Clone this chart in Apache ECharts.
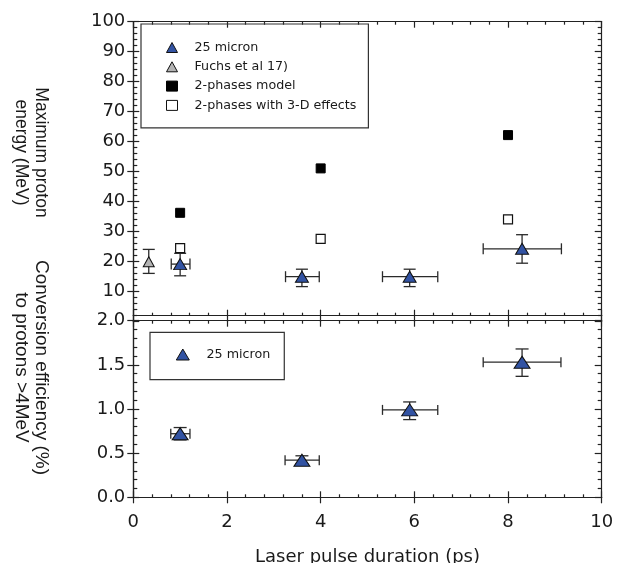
<!DOCTYPE html>
<html>
<head>
<meta charset="utf-8">
<script src="https://cdn.jsdelivr.net/npm/echarts@6/dist/echarts.min.js"></script>
<style>html,body{margin:0;padding:0;background:#fff}#c{width:621px;height:563px}</style>
</head>
<body>
<div id="c"></div>
<script>
// ---- data ----
const xTicks = [0, 2, 4, 6, 8, 10];
const energyTicks = [0, 10, 20, 30, 40, 50, 60, 70, 80, 90, 100];
const effTicks = [0.0, 0.5, 1.0, 1.5, 2.0];

const micronX = [1.0, 3.6, 5.9, 8.3];
const micronXLo = [0.81, 3.25, 5.32, 7.47];
const micronXHi = [1.21, 3.97, 6.50, 9.14];
const micronEnergy = [19.2, 15.0, 15.0, 24.3];
const micronEnergyLo = [15.3, 11.7, 11.7, 19.5];
const micronEnergyHi = [22.8, 17.5, 17.5, 29.0];

const fuchsX = [0.33];
const fuchsEnergy = [20.0];
const fuchsEnergyLo = [16.1];
const fuchsEnergyHi = [24.1];

const modelX = [1, 4, 8];
const model2Phase = [36.3, 51.1, 62.2];
const model3D = [24.5, 27.6, 34.1];

const effX = [1.0, 3.6, 5.9, 8.3];
const effXLo = [0.80, 3.24, 5.32, 7.47];
const effXHi = [1.21, 3.97, 6.50, 9.13];
const efficiency = [0.72, 0.42, 0.99, 1.53];
const efficiencyLo = [0.65, 0.38, 0.88, 1.37];
const efficiencyHi = [0.79, 0.47, 1.08, 1.68];

const legendTop = ['25 micron', 'Fuchs et al 17)', '2-phases model', '2-phases with 3-D effects'];
const legendBottom = ['25 micron'];

// ---- styling ----
const AX = '#222';
const BLUE = '#3253a3';
const GRAY = '#b4b4b4';
const TXT = '#1a1a1a';
const tickFont = { fontFamily: 'DejaVu Sans', fontSize: 18, color: TXT };
const lineSt = { color: AX, width: 1.2 };

function axisBase(grid, t, extra) {
  return Object.assign({
    type: 'value', gridIndex: grid,
    min: t[0], max: t[t.length - 1], interval: t[1] - t[0],
    axisLine: { show: true, onZero: false, lineStyle: lineSt },
    splitLine: { show: false },
    axisLabel: { show: false },
    axisTick: { show: false },
    minorTick: { show: false }
  }, extra);
}
const outTick = (len) => ({ show: true, inside: false, length: len, lineStyle: lineSt });
const inTick = (len) => ({ show: true, inside: true, length: len, lineStyle: lineSt });
const minor = (len) => ({ show: true, splitNumber: 5, length: len, lineStyle: lineSt });

const xAxes = [
  axisBase(0, xTicks, { position: 'bottom', offset: -6, axisTick: outTick(6) }),
  axisBase(0, xTicks, { position: 'bottom', offset: -6, axisTick: inTick(6), minorTick: minor(3) }),
  axisBase(0, xTicks, { position: 'top', axisTick: inTick(6), minorTick: minor(3) }),
  axisBase(1, xTicks, { position: 'bottom', axisTick: outTick(6),
    axisLabel: Object.assign({ show: true, margin: 16 }, tickFont) }),
  axisBase(1, xTicks, { position: 'bottom', axisTick: inTick(6), minorTick: minor(3) }),
  axisBase(1, xTicks, { position: 'top', axisTick: inTick(6), minorTick: minor(3) })
];
const yAxes = [
  axisBase(0, energyTicks, { position: 'left', axisTick: outTick(6),
    axisLabel: Object.assign({ show: true, margin: 8, showMinLabel: false }, tickFont) }),
  axisBase(0, energyTicks, { position: 'left', axisTick: inTick(6), minorTick: minor(4) }),
  axisBase(0, energyTicks, { position: 'right', axisTick: inTick(7), minorTick: minor(4) }),
  axisBase(1, effTicks, { position: 'left', axisTick: outTick(6),
    axisLabel: Object.assign({ show: true, margin: 8, formatter: v => v.toFixed(1) }, tickFont) }),
  axisBase(1, effTicks, { position: 'left', axisTick: inTick(6), minorTick: minor(4) }),
  axisBase(1, effTicks, { position: 'right', axisTick: inTick(7), minorTick: minor(4) })
];

function errData(x, y, xlo, xhi, ylo, yhi) {
  return x.map((v, i) => [v, y[i], xlo ? xlo[i] : v, xhi ? xhi[i] : v, ylo[i], yhi[i]]);
}
function errSeries(data, xi, yi, capV, capH) {
  return {
    type: 'custom', xAxisIndex: xi, yAxisIndex: yi, z: 1, silent: true,
    encode: { x: [0, 2, 3], y: [1, 4, 5] },
    data: data,
    renderItem: function (params, api) {
      const x = api.value(0), y = api.value(1);
      const xl = api.value(2), xh = api.value(3), yl = api.value(4), yh = api.value(5);
      const c = api.coord([x, y]);
      const pl = api.coord([xl, y]), ph = api.coord([xh, y]);
      const ql = api.coord([x, yl]), qh = api.coord([x, yh]);
      const st = { stroke: '#2a2a2a', lineWidth: 1.3 };
      const ch = [];
      if (xh > xl) {
        ch.push({ type: 'line', shape: { x1: pl[0], y1: c[1], x2: ph[0], y2: c[1] }, style: st });
        ch.push({ type: 'line', shape: { x1: pl[0], y1: c[1] - capH, x2: pl[0], y2: c[1] + capH }, style: st });
        ch.push({ type: 'line', shape: { x1: ph[0], y1: c[1] - capH, x2: ph[0], y2: c[1] + capH }, style: st });
      }
      ch.push({ type: 'line', shape: { x1: c[0], y1: ql[1], x2: c[0], y2: qh[1] }, style: st });
      ch.push({ type: 'line', shape: { x1: c[0] - capV, y1: ql[1], x2: c[0] + capV, y2: ql[1] }, style: st });
      ch.push({ type: 'line', shape: { x1: c[0] - capV, y1: qh[1], x2: c[0] + capV, y2: qh[1] }, style: st });
      return { type: 'group', children: ch };
    }
  };
}
const pairs = (x, y) => x.map((v, i) => [v, y[i]]);

const chart = echarts.init(document.getElementById('c'), null, { renderer: 'canvas' });
chart.setOption({
  animation: false,
  backgroundColor: '#fff',
  grid: [
    { left: 133.3, top: 21.7, width: 468.4, height: 300, containLabel: false },
    { left: 133.3, top: 320.7, width: 468.4, height: 176.6, containLabel: false }
  ],
  xAxis: xAxes,
  yAxis: yAxes,
  legend: [
    {
      data: legendTop, orient: 'vertical', left: 141, top: 24,
      padding: [17, 12, 16, 25], itemWidth: 11, itemHeight: 10, itemGap: 6.3,
      borderColor: '#333', borderWidth: 1.2, selectedMode: false,
      itemStyle: { borderWidth: 1 },
      textStyle: { fontFamily: 'DejaVu Sans', fontSize: 12.7, color: TXT, padding: [0, 0, 0, 12] }
    },
    {
      data: legendBottom, orient: 'vertical', left: 150, top: 332.3,
      padding: [15.7, 14, 18.6, 25.8], itemWidth: 13, itemHeight: 11,
      borderColor: '#333', borderWidth: 1.2, selectedMode: false,
      itemStyle: { borderWidth: 1 },
      textStyle: { fontFamily: 'DejaVu Sans', fontSize: 12.7, color: TXT, padding: [0, 0, 0, 12.2] }
    }
  ],
  graphic: [
    { type: 'text', x: 30.5, y: 152.5, rotation: -Math.PI / 2,
      style: { text: 'Maximum proton\nenergy (MeV)', fontFamily: 'Liberation Sans', fontSize: 17.5,
        lineHeight: 20, fill: TXT, align: 'center', verticalAlign: 'middle' } },
    { type: 'text', x: 31, y: 367.5, rotation: -Math.PI / 2,
      style: { text: 'Conversion efficiency (%)\nto protons >4MeV', fontFamily: 'Liberation Sans', fontSize: 19,
        lineHeight: 20.5, fill: TXT, align: 'center', verticalAlign: 'middle' } },
    { type: 'text', x: 367.5, y: 548, 
      style: { text: 'Laser pulse duration (ps)', fontFamily: 'DejaVu Sans', fontSize: 18,
        fill: TXT, align: 'center', verticalAlign: 'top' } }
  ],
  series: [
    errSeries(errData(micronX, micronEnergy, micronXLo, micronXHi, micronEnergyLo, micronEnergyHi), 0, 0, 6, 5.5),
    errSeries(errData(fuchsX, fuchsEnergy, null, null, fuchsEnergyLo, fuchsEnergyHi), 0, 0, 6, 5.5),
    errSeries(errData(effX, efficiency, effXLo, effXHi, efficiencyLo, efficiencyHi), 3, 3, 6.5, 5),
    {
      name: '25 micron', type: 'scatter', xAxisIndex: 0, yAxisIndex: 0, z: 3,
      symbol: 'triangle', symbolSize: [13, 11],
      itemStyle: { color: BLUE, borderColor: '#111', borderWidth: 1, opacity: 1 },
      data: pairs(micronX, micronEnergy)
    },
    {
      name: 'Fuchs et al 17)', type: 'scatter', xAxisIndex: 0, yAxisIndex: 0, z: 3,
      symbol: 'triangle', symbolSize: [11, 10],
      itemStyle: { color: GRAY, borderColor: '#111', borderWidth: 1, opacity: 1 },
      data: pairs(fuchsX, fuchsEnergy)
    },
    {
      name: '2-phases model', type: 'scatter', xAxisIndex: 0, yAxisIndex: 0, z: 3,
      symbol: 'rect', symbolSize: [9, 9],
      itemStyle: { color: '#000', borderColor: '#000', borderWidth: 1, opacity: 1 },
      data: pairs(modelX, model2Phase)
    },
    {
      name: '2-phases with 3-D effects', type: 'scatter', xAxisIndex: 0, yAxisIndex: 0, z: 3,
      symbol: 'rect', symbolSize: [9, 9],
      itemStyle: { color: '#fff', borderColor: '#111', borderWidth: 1.2, opacity: 1 },
      data: pairs(modelX, model3D)
    },
    {
      name: '25 micron', type: 'scatter', xAxisIndex: 3, yAxisIndex: 3, z: 3,
      symbol: 'triangle', symbolSize: [16, 12],
      itemStyle: { color: BLUE, borderColor: '#111', borderWidth: 1, opacity: 1 },
      data: pairs(effX, efficiency)
    }
  ]
});
</script>
</body>
</html>
